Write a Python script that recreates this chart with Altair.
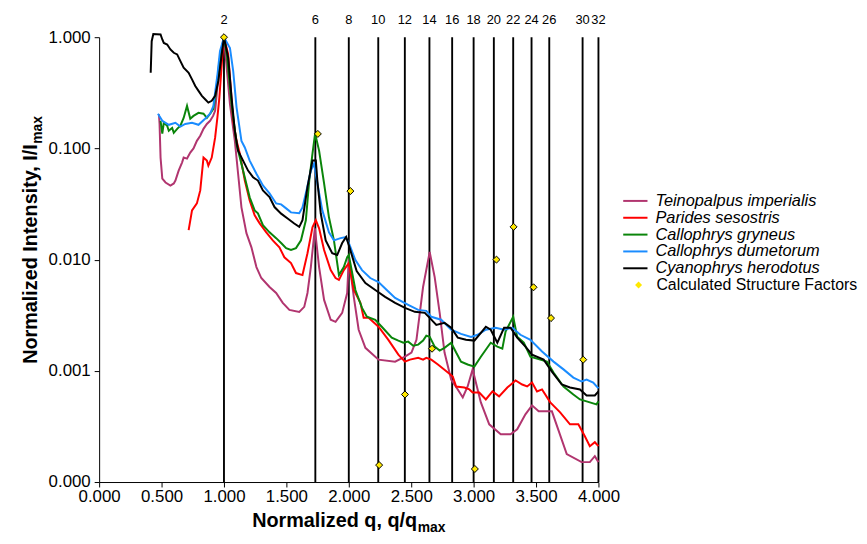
import altair as alt
import pandas as pd

FONT = "Liberation Sans"

SERIES = ["Teinopalpus imperialis", "Parides sesostris", "Callophrys gryneus",
          "Callophrys dumetorum", "Cyanophrys herodotus"]
COLORS = ["#B1356F", "#FF0000", "#0A850A", "#1A8CFF", "#000000"]

TEINOPALPUS = [(0.479,0.203),(0.484,0.166),(0.492,0.0827),(0.506,0.0536),(0.532,0.0494),(0.571,0.0464),
    (0.598,0.0484),(0.611,0.0514),(0.637,0.0632),(0.664,0.0746),(0.677,0.0827),(0.704,0.0810),(0.730,0.0916),
    (0.756,0.100),(0.783,0.117),(0.810,0.130),(0.836,0.150),(0.863,0.166),(0.889,0.177),(0.913,0.196),
    (0.929,0.218),(0.947,0.352),(0.974,0.700),(1.000,1.000),(1.048,0.250),(1.087,0.117),(1.113,0.0595),
    (1.140,0.0295),(1.180,0.0173),(1.220,0.0129),(1.260,0.00857),(1.299,0.00683),(1.365,0.00567),
    (1.418,0.00501),(1.471,0.00408),(1.524,0.00353),(1.603,0.00339),(1.643,0.00376),(1.669,0.00501),
    (1.696,0.00857),(1.728,0.0191),(1.762,0.00857),(1.802,0.00434),(1.855,0.00288),(1.894,0.00276),
    (1.947,0.00332),(1.987,0.00501),(2.000,0.0103),(2.040,0.00462),(2.079,0.00234),(2.133,0.00161),
    (2.238,0.00126),(2.371,0.00121),(2.450,0.00134),(2.502,0.00146),(2.542,0.00190),(2.595,0.00567),
    (2.648,0.0117),(2.688,0.00697),(2.728,0.00332),(2.767,0.00146),(2.820,0.000835),(2.873,0.000680),
    (2.913,0.000576),(2.952,0.000723),(2.992,0.00103),(3.058,0.000520),(3.125,0.000330),(3.217,0.000269),
    (3.296,0.000269),(3.349,0.000298),(3.415,0.000406),(3.468,0.000489),(3.521,0.000432),(3.627,0.000432),
    (3.746,0.000178),(3.865,0.000151),(3.931,0.000151),(3.971,0.000171),(4.000,0.000151)]

PARIDES = [(0.717,0.0184),(0.744,0.0277),(0.783,0.0320),(0.810,0.0419),(0.836,0.0827),(0.863,0.0777),
    (0.875,0.0701),(0.902,0.0827),(0.929,0.125),(0.947,0.188),(0.963,0.285),(0.984,0.610),(1.000,1.000),
    (1.034,0.700),(1.074,0.177),(1.101,0.117),(1.127,0.0898),(1.167,0.0514),(1.206,0.0341),(1.246,0.0250),
    (1.286,0.0212),(1.339,0.0176),(1.391,0.0149),(1.444,0.0129),(1.484,0.0105),(1.537,0.0093),
    (1.577,0.00757),(1.629,0.00726),(1.669,0.0114),(1.709,0.0195),(1.736,0.0226),(1.762,0.0191),
    (1.802,0.0122),(1.855,0.00805),(1.894,0.00683),(1.921,0.00656),(1.960,0.00805),(2.000,0.0093),
    (2.040,0.00533),(2.093,0.00408),(2.119,0.00300),(2.159,0.00300),(2.238,0.00249),(2.317,0.00190),
    (2.397,0.00140),(2.450,0.00121),(2.490,0.00126),(2.556,0.00131),(2.595,0.00126),(2.621,0.00131),
    (2.661,0.00126),(2.714,0.00114),(2.794,0.000965),(2.833,0.000889),(2.860,0.000723),(2.926,0.000708),
    (2.966,0.000680),(2.992,0.000639),(3.045,0.000639),(3.098,0.000553),(3.151,0.000652),(3.204,0.000589),
    (3.270,0.000708),(3.336,0.000818),(3.389,0.000753),(3.429,0.000723),(3.468,0.000785),(3.508,0.000652),
    (3.548,0.000680),(3.614,0.000520),(3.693,0.000423),(3.772,0.000330),(3.839,0.000330),(3.891,0.000258),
    (3.931,0.000210),(3.971,0.000228),(4.000,0.000210)]

GRYNEUS = [(0.492,0.177),(0.506,0.136),(0.518,0.170),(0.545,0.160),(0.558,0.144),(0.585,0.153),
    (0.598,0.138),(0.625,0.150),(0.651,0.160),(0.677,0.188),(0.704,0.241),(0.730,0.185),(0.756,0.196),
    (0.796,0.209),(0.836,0.205),(0.863,0.188),(0.889,0.205),(0.915,0.227),(0.942,0.352),(0.963,0.610),
    (1.000,1.000),(1.024,0.676),(1.061,0.250),(1.103,0.106),(1.153,0.0632),(1.206,0.0363),(1.246,0.0277),
    (1.272,0.0261),(1.312,0.0204),(1.365,0.0176),(1.418,0.0156),(1.458,0.0141),(1.498,0.0127),
    (1.537,0.0122),(1.577,0.0127),(1.617,0.0149),(1.656,0.0226),(1.683,0.0514),(1.709,0.0898),
    (1.730,0.136),(1.762,0.0955),(1.802,0.0484),(1.841,0.0240),(1.881,0.0149),(1.921,0.00726),
    (1.960,0.00857),(1.987,0.0105),(2.000,0.0110),(2.053,0.00533),(2.106,0.00368),(2.145,0.00306),
    (2.212,0.00288),(2.264,0.00249),(2.344,0.00199),(2.397,0.00187),(2.437,0.00179),(2.476,0.00183),
    (2.516,0.00168),(2.556,0.00172),(2.595,0.00187),(2.621,0.00207),(2.648,0.00202),(2.688,0.00165),
    (2.728,0.00152),(2.767,0.00161),(2.820,0.00179),(2.860,0.00146),(2.899,0.00121),(2.952,0.00114),
    (3.006,0.00109),(3.058,0.00134),(3.137,0.00179),(3.190,0.00165),(3.230,0.00158),(3.256,0.00225),
    (3.317,0.00306),(3.349,0.00202),(3.402,0.00179),(3.455,0.00134),(3.534,0.00126),(3.587,0.00121),
    (3.640,0.000965),(3.720,0.000723),(3.799,0.000613),(3.852,0.000553),(3.905,0.000531),(3.984,0.000499),
    (4.000,0.000531)]

DUMETORUM = [(0.471,0.205),(0.506,0.177),(0.558,0.163),(0.611,0.170),(0.651,0.157),(0.690,0.166),
    (0.744,0.170),(0.796,0.163),(0.849,0.185),(0.889,0.205),(0.915,0.240),(0.948,0.464),(0.968,0.749),
    (1.000,1.000),(1.048,0.800),(1.074,0.496),(1.101,0.233),(1.140,0.117),(1.167,0.102),(1.206,0.0777),
    (1.260,0.0591),(1.312,0.0464),(1.365,0.0394),(1.418,0.0320),(1.458,0.0314),(1.498,0.0289),
    (1.537,0.0266),(1.603,0.0261),(1.629,0.0295),(1.661,0.0419),(1.696,0.0632),(1.722,0.0730),
    (1.748,0.0484),(1.788,0.0277),(1.841,0.0176),(1.881,0.0149),(1.934,0.0156),(1.974,0.0159),
    (2.000,0.0141),(2.053,0.0099),(2.106,0.00805),(2.172,0.00683),(2.238,0.00629),(2.304,0.00533),
    (2.371,0.00452),(2.476,0.00392),(2.556,0.00353),(2.621,0.00346),(2.661,0.00306),(2.740,0.00288),
    (2.820,0.00234),(2.899,0.00215),(2.979,0.00202),(3.032,0.00211),(3.098,0.00234),(3.177,0.00244),
    (3.244,0.00234),(3.310,0.00244),(3.375,0.00211),(3.455,0.00190),(3.548,0.00149),(3.640,0.00121),
    (3.720,0.00103),(3.799,0.000870),(3.865,0.000801),(3.905,0.000835),(3.958,0.000785),(4.000,0.000694)]

HERODOTUS = [(0.413,0.479),(0.421,0.921),(0.434,1.07),(0.492,1.057),(0.506,0.954),(0.518,0.889),
    (0.545,0.860),(0.571,0.776),(0.598,0.724),(0.625,0.700),(0.651,0.610),(0.677,0.531),(0.717,0.479),
    (0.744,0.418),(0.770,0.364),(0.796,0.329),(0.823,0.297),(0.849,0.277),(0.875,0.258),(0.902,0.268),
    (0.929,0.297),(0.955,0.404),(0.982,0.700),(1.000,1.000),(1.034,0.653),(1.061,0.286),(1.087,0.144),
    (1.113,0.0955),(1.153,0.0777),(1.193,0.0632),(1.233,0.0551),(1.272,0.0514),(1.312,0.0419),
    (1.365,0.0365),(1.405,0.0297),(1.458,0.0259),(1.510,0.0234),(1.563,0.0211),(1.603,0.0197),
    (1.629,0.0226),(1.669,0.0448),(1.709,0.0777),(1.736,0.0777),(1.748,0.0514),(1.775,0.0261),
    (1.815,0.0149),(1.867,0.0114),(1.907,0.0110),(1.947,0.0141),(1.979,0.0160),(2.000,0.0135),
    (2.063,0.00789),(2.133,0.00616),(2.212,0.00533),(2.291,0.00462),(2.371,0.00408),(2.450,0.00368),
    (2.529,0.00339),(2.609,0.00332),(2.648,0.00299),(2.701,0.00259),(2.767,0.00270),(2.820,0.00244),
    (2.873,0.00199),(2.939,0.00190),(3.006,0.00187),(3.098,0.00249),(3.137,0.00234),(3.190,0.00179),
    (3.244,0.00244),(3.296,0.00244),(3.349,0.00199),(3.415,0.00165),(3.468,0.00140),(3.561,0.00126),
    (3.627,0.000985),(3.706,0.000753),(3.772,0.000708),(3.852,0.000680),(3.905,0.000601),(3.971,0.000601),
    (4.000,0.000652)]

# Calculated structure factors
SF_Q = [1.000, 1.752, 2.013, 2.243, 2.450, 2.667, 3.010, 3.183, 3.320, 3.480, 3.620, 3.878]
SF_I = [1.0, 0.135, 0.0413, 0.000142, 0.000613, 0.00158, 0.000131, 0.0100, 0.0197, 0.00564, 0.00298, 0.00126]

# Reflection lines
REFL_Q = [1.000, 1.732, 2.000, 2.236, 2.449, 2.646, 2.828, 3.000, 3.162, 3.317, 3.464, 3.606, 3.873, 4.000]
REFL_LABEL = ["2", "6", "8", "10", "12", "14", "16", "18", "20", "22", "24", "26", "30", "32"]

X_TICKS = [0.0, 0.5, 1.0, 1.5, 2.0, 2.5, 3.0, 3.5, 4.0]
Y_TICKS = [0.0001, 0.001, 0.01, 0.1, 1.0]

W, H = 504, 449

rows = []
for name, pts in zip(SERIES, [TEINOPALPUS, PARIDES, GRYNEUS, DUMETORUM, HERODOTUS]):
    for i, (q, v) in enumerate(pts):
        rows.append({"series": name, "q": q, "I": v, "i": i})
lines_df = pd.DataFrame(rows)
sf_df = pd.DataFrame({"q": SF_Q, "I": SF_I, "kind": ["Calculated Structure Factors"] * len(SF_Q)})
refl_df = pd.DataFrame({"q": REFL_Q, "label": REFL_LABEL})

xscale = alt.Scale(domain=[0, 4], nice=False, zero=False)
yscale = alt.Scale(type="log", domain=[0.0001, 1.0], nice=False)

xaxis = alt.Axis(values=X_TICKS, format=".3f", title=None, grid=False, labelFontSize=17,
                 labelFont=FONT, labelColor="black", tickColor="black", domainColor="black",
                 tickSize=5, labelPadding=2, labelFlush=False)
yaxis = alt.Axis(values=Y_TICKS, format=".3f", title=None, grid=False, labelFontSize=17,
                 labelFont=FONT, labelColor="black", tickColor="black", domainColor="black",
                 tickSize=5, labelPadding=4)

rules = alt.Chart(refl_df).mark_rule(color="black", strokeWidth=1.9).encode(
    x=alt.X("q:Q", scale=xscale, axis=xaxis)
)

top_labels = alt.Chart(refl_df).mark_text(font=FONT, fontSize=13, color="black", baseline="middle").encode(
    x=alt.X("q:Q", scale=xscale), y=alt.value(-17), text="label:N"
)

lines = alt.Chart(lines_df).mark_line(strokeWidth=2).encode(
    x=alt.X("q:Q", scale=xscale, axis=xaxis),
    y=alt.Y("I:Q", scale=yscale, axis=yaxis),
    order="i:Q",
    color=alt.Color("series:N", scale=alt.Scale(domain=SERIES, range=COLORS),
                    legend=alt.Legend(title=None, orient="none", legendX=533, legendY=157,
                                      symbolType="M-1.75,0L1.75,0", symbolSize=196, symbolStrokeWidth=2,
                                      labelFontSize=16.5, labelFont=FONT, labelFontStyle="italic",
                                      labelColor="black", labelOffset=12, rowPadding=0, padding=0,
                                      labelLimit=400)),
)

points = alt.Chart(sf_df).mark_point(filled=True, fill="#FFE800", stroke="black", strokeWidth=1,
                                     size=50, opacity=1).encode(
    x=alt.X("q:Q", scale=xscale),
    y=alt.Y("I:Q", scale=yscale),
    shape=alt.Shape("kind:N", scale=alt.Scale(domain=["Calculated Structure Factors"], range=["diamond"]),
                    legend=alt.Legend(title=None, orient="none", legendX=536.5, legendY=242,
                                      symbolSize=50, symbolFillColor="#FFE800", symbolStrokeColor="black",
                                      symbolStrokeWidth=1, symbolOpacity=1, labelFontSize=16, labelFont=FONT,
                                      labelColor="black", labelOffset=10, padding=0, labelLimit=400)),
)

title_df = pd.DataFrame({"t": ["x"]})
xt_main = alt.Chart(title_df).mark_text(text="Normalized q, q/q", font=FONT, fontSize=20, fontWeight="bold",
                                        align="right", baseline="alphabetic", color="black").encode(
    x=alt.value(321), y=alt.value(H + 45))
xt_sub = alt.Chart(title_df).mark_text(text="max", font=FONT, fontSize=14, fontWeight="bold",
                                       align="left", baseline="alphabetic", color="black").encode(
    x=alt.value(321.5), y=alt.value(H + 50))
yt_main = alt.Chart(title_df).mark_text(text="Normalized Intensity, I/I", font=FONT, fontSize=20,
                                        fontWeight="bold", align="right", baseline="alphabetic",
                                        angle=270, color="black").encode(
    x=alt.value(-63), y=alt.value(108))
yt_sub = alt.Chart(title_df).mark_text(text="max", font=FONT, fontSize=14, fontWeight="bold",
                                       align="left", baseline="alphabetic", angle=270, color="black").encode(
    x=alt.value(-58), y=alt.value(107.5))

chart = alt.layer(rules, lines, points, top_labels, xt_main, xt_sub, yt_main, yt_sub).properties(
    width=W, height=H,
    autosize=alt.AutoSizeParams(type="none"),
    padding={"left": 92, "top": 27, "right": 263, "bottom": 52},
).configure_view(stroke=None).configure_axis(domainWidth=1, tickWidth=1)

chart.save("out.html", embed_options={"renderer": "svg", "actions": False})
